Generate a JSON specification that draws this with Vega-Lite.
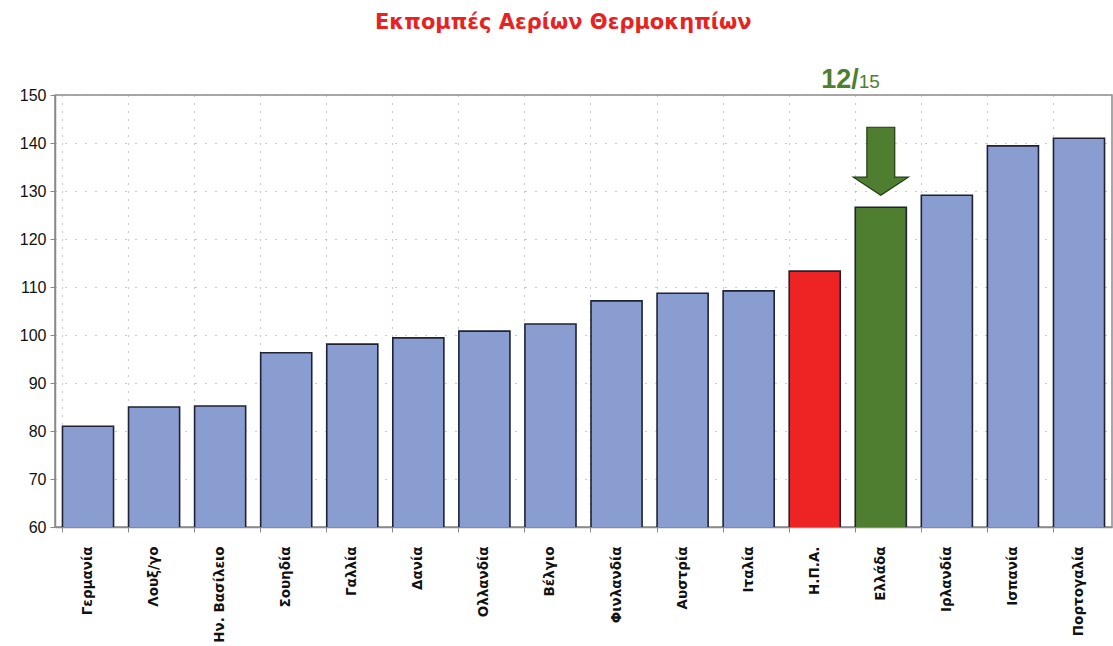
{
  "$schema": "https://vega.github.io/schema/vega-lite/v6.json",
  "autosize": {"type": "none"},
  "padding": {"left": 55, "top": 95, "right": 1, "bottom": 119},
  "width": 1057,
  "height": 432,
  "background": "white",
  "title": {
    "text": "Εκπομπές Αερίων Θερμοκηπίων",
    "color": "#e8231f",
    "font": "DejaVu Sans",
    "fontWeight": "bold",
    "fontSize": 21,
    "frame": "group",
    "anchor": "start",
    "baseline": "alphabetic",
    "offset": 16,
    "dx": 320
  },
  "config": {
    "view": {"stroke": "#8a8a8a", "strokeWidth": 1.5},
    "axis": {"labelFont": "Liberation Sans", "domainColor": "#8a8a8a", "tickColor": "#8a8a8a"}
  },
  "datasets": {
    "bars": [
      {"country": "Γερμανία", "value": 81.0, "group": "other"},
      {"country": "Λουξ/γο", "value": 85.0, "group": "other"},
      {"country": "Ην. Βασίλειο", "value": 85.2, "group": "other"},
      {"country": "Σουηδία", "value": 96.3, "group": "other"},
      {"country": "Γαλλία", "value": 98.1, "group": "other"},
      {"country": "Δανία", "value": 99.4, "group": "other"},
      {"country": "Ολλανδία", "value": 100.8, "group": "other"},
      {"country": "Βέλγιο", "value": 102.3, "group": "other"},
      {"country": "Φινλανδία", "value": 107.1, "group": "other"},
      {"country": "Αυστρία", "value": 108.7, "group": "other"},
      {"country": "Ιταλία", "value": 109.2, "group": "other"},
      {"country": "Η.Π.Α.", "value": 113.3, "group": "usa"},
      {"country": "Ελλάδα", "value": 126.6, "group": "greece"},
      {"country": "Ιρλανδία", "value": 129.1, "group": "other"},
      {"country": "Ισπανία", "value": 139.4, "group": "other"},
      {"country": "Πορτογαλία", "value": 141.0, "group": "other"}
    ],
    "note": [
      {"country": "Ελλάδα", "arrow": 136.2, "labelY": 151.5, "rank": "12/", "total": "15"}
    ]
  },
  "layer": [
    {
      "data": {"name": "bars"},
      "mark": {"type": "bar", "stroke": "#1f2233", "strokeWidth": 1.6, "clip": true},
      "encoding": {
        "x": {
          "field": "country",
          "type": "nominal",
          "sort": null,
          "scale": {"paddingInner": 0.227, "paddingOuter": 0.113},
          "axis": {
            "title": null,
            "labelAngle": -90,
            "labelFontSize": 13.5,
            "labelFontWeight": "bold",
            "labelFont": "DejaVu Sans",
            "labelColor": "#111",
            "labelPadding": 14,
            "bandPosition": 0,
            "tickSize": 5,
            "grid": true,
            "gridDash": [1, 7],
            "gridColor": "#999",
            "gridWidth": 1.2,
            "domainWidth": 1.5
          }
        },
        "y": {
          "field": "value",
          "type": "quantitative",
          "scale": {"domain": [60, 150], "zero": false, "nice": false},
          "axis": {
            "title": null,
            "values": [60, 70, 80, 90, 100, 110, 120, 130, 140, 150],
            "labelFontSize": 16,
            "labelColor": "#111",
            "labelPadding": 4,
            "tickSize": 5,
            "gridDash": [1, 9],
            "gridColor": "#999",
            "gridWidth": 1.2,
            "domainWidth": 1.5
          }
        },
        "color": {
          "field": "group",
          "type": "nominal",
          "scale": {"domain": ["other", "usa", "greece"], "range": ["#8a9dd0", "#ee2424", "#4f7e30"]},
          "legend": null
        }
      }
    },
    {
      "data": {"name": "note"},
      "mark": {
        "type": "point",
        "shape": "M-0.41,-1 L0.41,-1 L0.41,0.47 L0.81,0.47 L0,1 L-0.81,0.47 L-0.41,0.47 Z",
        "size": 4624,
        "filled": true,
        "fill": "#4f7e30",
        "stroke": "#1f3a14",
        "strokeWidth": 1.2,
        "opacity": 1
      },
      "encoding": {
        "x": {"field": "country", "type": "nominal", "sort": null},
        "y": {"field": "arrow", "type": "quantitative"}
      }
    },
    {
      "data": {"name": "note"},
      "mark": {"type": "text", "font": "Liberation Sans", "fontWeight": "bold", "fontSize": 27, "color": "#4f7e30", "align": "right", "baseline": "alphabetic", "dx": -22},
      "encoding": {
        "x": {"field": "country", "type": "nominal", "sort": null},
        "y": {"field": "labelY", "type": "quantitative"},
        "text": {"field": "rank"}
      }
    },
    {
      "data": {"name": "note"},
      "mark": {"type": "text", "font": "Liberation Sans", "fontSize": 19, "color": "#4f7e30", "align": "left", "baseline": "alphabetic", "dx": -22},
      "encoding": {
        "x": {"field": "country", "type": "nominal", "sort": null},
        "y": {"field": "labelY", "type": "quantitative"},
        "text": {"field": "total"}
      }
    }
  ]
}
